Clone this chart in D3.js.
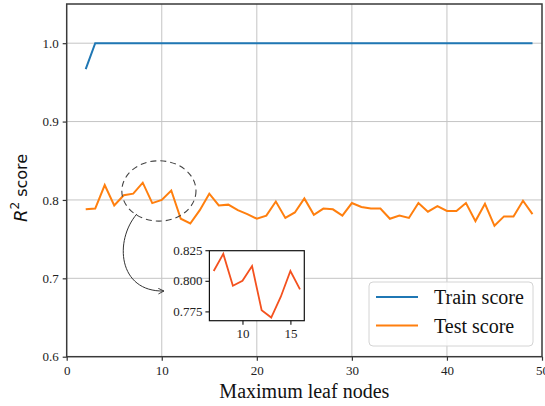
<!DOCTYPE html>
<html><head><meta charset="utf-8">
<script src="https://cdn.jsdelivr.net/npm/d3@7"></script>
<style>body{margin:0;background:#fff}svg{display:block}</style>
</head><body>
<svg id="c" width="545" height="406"></svg>
<script>
// ---- data ----
const nodes = d3.range(2, 50);
const trainScore = [0.967].concat(d3.range(3, 50).map(() => 1.0));
const testScore = [
  0.788, 0.789, 0.819, 0.793, 0.806, 0.808, 0.822, 0.796, 0.800, 0.812,
  0.776, 0.770, 0.787, 0.808, 0.793, 0.794, 0.787, 0.782, 0.776, 0.780,
  0.798, 0.777, 0.784, 0.802, 0.781, 0.789, 0.788, 0.780, 0.796, 0.791,
  0.789, 0.789, 0.776, 0.780, 0.777, 0.796, 0.785, 0.792, 0.786, 0.786,
  0.796, 0.773, 0.795, 0.767, 0.779, 0.779, 0.799, 0.782
];
const xTicks = [0, 10, 20, 30, 40, 50];
const yTicks = [0.6, 0.7, 0.8, 0.9, 1.0];
const insetRange = [7, 16];
const insetXTicks = [10, 15];
const insetYTicks = [0.775, 0.800, 0.825];
const seriesNames = ["Train score", "Test score"];
const colors = ["#1f77b4", "#ff7f0e"];
const insetColor = "#f4511e";

// ---- layout ----
const svg = d3.select("#c");
const M = {l: 66.7, r: 542, t: 4, b: 356.7};
const x = d3.scaleLinear().domain([0, 50]).range([M.l, M.r]);
const y = d3.scaleLinear().domain([0.6, 1.05]).range([M.b, M.t]);
const serif = "'Liberation Serif','Times New Roman',serif";

svg.append("rect").attr("width", 545).attr("height", 406).attr("fill", "#fff");

// grid
const grid = svg.append("g").attr("stroke", "#c4c4c4").attr("stroke-width", 1);
grid.selectAll(".gx").data(xTicks.filter(d => d > 0 && d < 50)).join("line")
  .attr("x1", d => x(d)).attr("x2", d => x(d)).attr("y1", M.t).attr("y2", M.b);
grid.selectAll(".gy").data(yTicks.filter(d => d > 0.6)).join("line")
  .attr("y1", d => y(d)).attr("y2", d => y(d)).attr("x1", M.l).attr("x2", M.r);

// axes
const xAxis = svg.append("g").attr("transform", `translate(0,${M.b})`)
  .call(d3.axisBottom(x).tickValues(xTicks).tickFormat(d3.format("d")).tickSize(4).tickPadding(5));
const yAxis = svg.append("g").attr("transform", `translate(${M.l},0)`)
  .call(d3.axisLeft(y).tickValues(yTicks).tickFormat(d3.format(".1f")).tickSize(4).tickPadding(4));
[xAxis, yAxis].forEach(a => {
  a.select(".domain").remove();
  a.attr("font-family", serif).style("font-family", serif);
  a.selectAll("line").attr("stroke", "#333").attr("stroke-width", 1.2);
  a.selectAll("text").style("font-family", serif).attr("font-size", 13).attr("fill", "#222");
});

// lines
const line = d3.line().x((d, i) => x(nodes[i])).y(d => y(d));
svg.append("path").datum(trainScore).attr("d", line).attr("fill", "none")
  .attr("stroke", colors[0]).attr("stroke-width", 2);
svg.append("path").datum(testScore).attr("d", line).attr("fill", "none")
  .attr("stroke", colors[1]).attr("stroke-width", 2);

// frame
svg.append("rect").attr("x", M.l).attr("y", M.t).attr("width", M.r - M.l).attr("height", M.b - M.t)
  .attr("fill", "none").attr("stroke", "#3a3a3a").attr("stroke-width", 1.5);

// annotation ellipse (data coords)
const ell = {cx: 9.7, cy: 0.8115, w: 7.8, h: 0.077};
svg.append("ellipse").attr("cx", x(ell.cx)).attr("cy", y(ell.cy))
  .attr("rx", x(ell.w / 2) - x(0)).attr("ry", y(0) - y(ell.h / 2))
  .attr("fill", "none").attr("stroke", "#444").attr("stroke-width", 1.1).attr("stroke-dasharray", "6,4");

// curved arrow (data coords)
const arrowPts = [[7.38, 0.7821], [4.98, 0.7483], [5.39, 0.6825], [10.23, 0.6838]];
svg.append("defs").append("marker").attr("id", "ah").attr("viewBox", "0 0 10 10")
  .attr("refX", 9).attr("refY", 5).attr("markerWidth", 7).attr("markerHeight", 7)
  .attr("markerUnits", "userSpaceOnUse").attr("orient", "auto")
  .append("path").attr("d", "M1,1 L9,5 L1,9").attr("fill", "none").attr("stroke", "#333").attr("stroke-width", 1.3);
const P = arrowPts.map(p => [x(p[0]), y(p[1])]);
svg.append("path").attr("d", `M${P[0]} C${P[1]} ${P[2]} ${P[3]}`)
  .attr("fill", "none").attr("stroke", "#333").attr("stroke-width", 1).attr("marker-end", "url(#ah)");

// inset
const insetIdx = nodes.map((n, i) => i).filter(i => nodes[i] >= insetRange[0] && nodes[i] <= insetRange[1]);
const insetVals = insetIdx.map(i => testScore[i]);
const [mn, mx] = d3.extent(insetVals);
const padY = (mx - mn) * 0.05, padX = (insetRange[1] - insetRange[0]) * 0.05;
const IB = {l: 209.4, r: 304.3, t: 250.7, b: 320.7};
const ix = d3.scaleLinear().domain([insetRange[0] - padX, insetRange[1] + padX]).range([IB.l, IB.r]);
const iy = d3.scaleLinear().domain([mn - padY, mx + padY]).range([IB.b, IB.t]);
svg.append("rect").attr("x", IB.l).attr("y", IB.t).attr("width", IB.r - IB.l).attr("height", IB.b - IB.t)
  .attr("fill", "#fff");
svg.append("path").datum(insetIdx).attr("d", d3.line().x(i => ix(nodes[i])).y(i => iy(testScore[i])))
  .attr("fill", "none").attr("stroke", insetColor).attr("stroke-width", 1.8);
svg.append("rect").attr("x", IB.l).attr("y", IB.t).attr("width", IB.r - IB.l).attr("height", IB.b - IB.t)
  .attr("fill", "none").attr("stroke", "#111").attr("stroke-width", 1.2);
const ixa = svg.append("g").attr("transform", `translate(0,${IB.b})`)
  .call(d3.axisBottom(ix).tickValues(insetXTicks).tickFormat(d3.format("d")).tickSize(4).tickPadding(4));
const iya = svg.append("g").attr("transform", `translate(${IB.l},0)`)
  .call(d3.axisLeft(iy).tickValues(insetYTicks).tickFormat(d3.format(".3f")).tickSize(4).tickPadding(3));
[ixa, iya].forEach(a => {
  a.select(".domain").remove();
  a.attr("font-family", serif).style("font-family", serif);
  a.selectAll("line").attr("stroke", "#111").attr("stroke-width", 1.1);
  a.selectAll("text").style("font-family", serif).attr("font-size", 13).attr("fill", "#222");
});

// labels
svg.append("text").attr("x", (M.l + M.r) / 2).attr("y", 398).attr("text-anchor", "middle")
  .attr("font-family", serif).attr("font-size", 20).attr("fill", "#111").text("Maximum leaf nodes");
const yl = svg.append("text").attr("transform", `translate(27,188) rotate(-90)`).attr("text-anchor", "middle")
  .attr("font-family", "'DejaVu Sans',sans-serif").attr("font-size", 16).attr("fill", "#111");
yl.append("tspan").attr("font-style", "italic").attr("font-size", 18).text("R");
yl.append("tspan").attr("dy", -8).attr("font-size", 12).text("2");
yl.append("tspan").attr("dy", 8).text(" score");

// legend
const lg = svg.append("g");
lg.append("rect").attr("x", 369).attr("y", 282).attr("width", 164).attr("height", 64).attr("rx", 4)
  .attr("fill", "#fff").attr("fill-opacity", 0.85).attr("stroke", "#d4d4d4").attr("stroke-width", 1);
seriesNames.forEach((s, i) => {
  const yy = 297 + i * 28.5;
  lg.append("line").attr("x1", 376).attr("x2", 418).attr("y1", yy).attr("y2", yy)
    .attr("stroke", colors[i]).attr("stroke-width", 2);
  lg.append("text").attr("x", 434).attr("y", yy + 7).attr("font-family", serif).attr("font-size", 20)
    .attr("fill", "#111").text(s);
});
</script>
</body></html>
